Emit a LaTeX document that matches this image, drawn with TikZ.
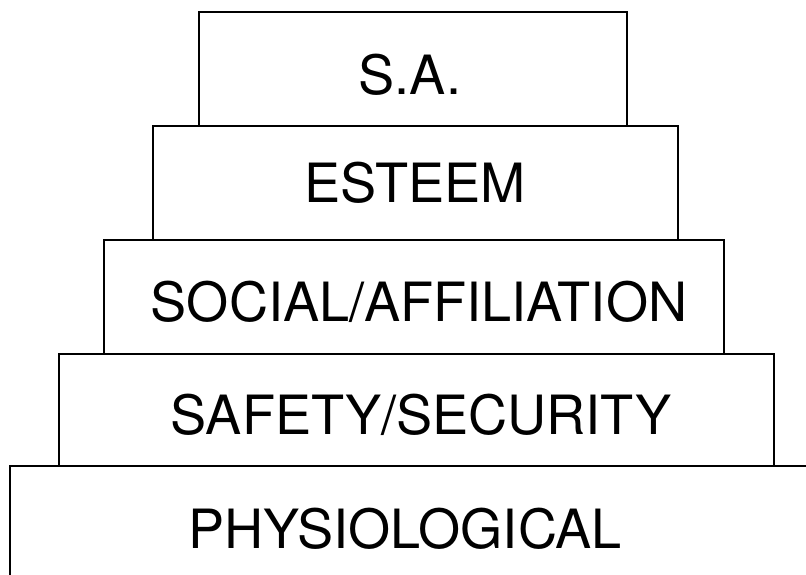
\documentclass[tikz,border=0pt]{standalone}
\usepackage{fontspec}
\setmainfont{TeX Gyre Heros}
\tikzset{tierlabel/.style={anchor=base,inner sep=0pt,font=\fontsize{15.4}{18}\selectfont}}
\begin{document}
\begin{tikzpicture}[line width=0.75pt]
          \clip (0,0) rectangle (8.06,5.75);
          \fill[white] (0,0) rectangle (8.06,5.75);
          % bottom tier runs off the page
          \draw (0.10,-0.30) rectangle (8.40,1.09);
          \node[tierlabel] (physio) at (4.05,0.26) {PHYSIOLOGICAL};
          \draw (0.59,1.09) rectangle (7.74,2.21);
          \node[tierlabel] (safety) at (4.21,1.40) {SAFETY/SECURITY};
          \draw (1.04,2.21) rectangle (7.24,3.35);
          \node[tierlabel] (social) at (4.19,2.53) {SOCIAL/AFFILIATION};
          \draw (1.53,3.35) rectangle (6.78,4.49);
          \node[tierlabel] (esteem) at (4.15,3.72) {ESTEEM};
          \draw (1.99,4.49) rectangle (6.27,5.63);
          \node[tierlabel] (sa) at (4.10,4.80) {S.A.};
        \end{tikzpicture}
\end{document}
